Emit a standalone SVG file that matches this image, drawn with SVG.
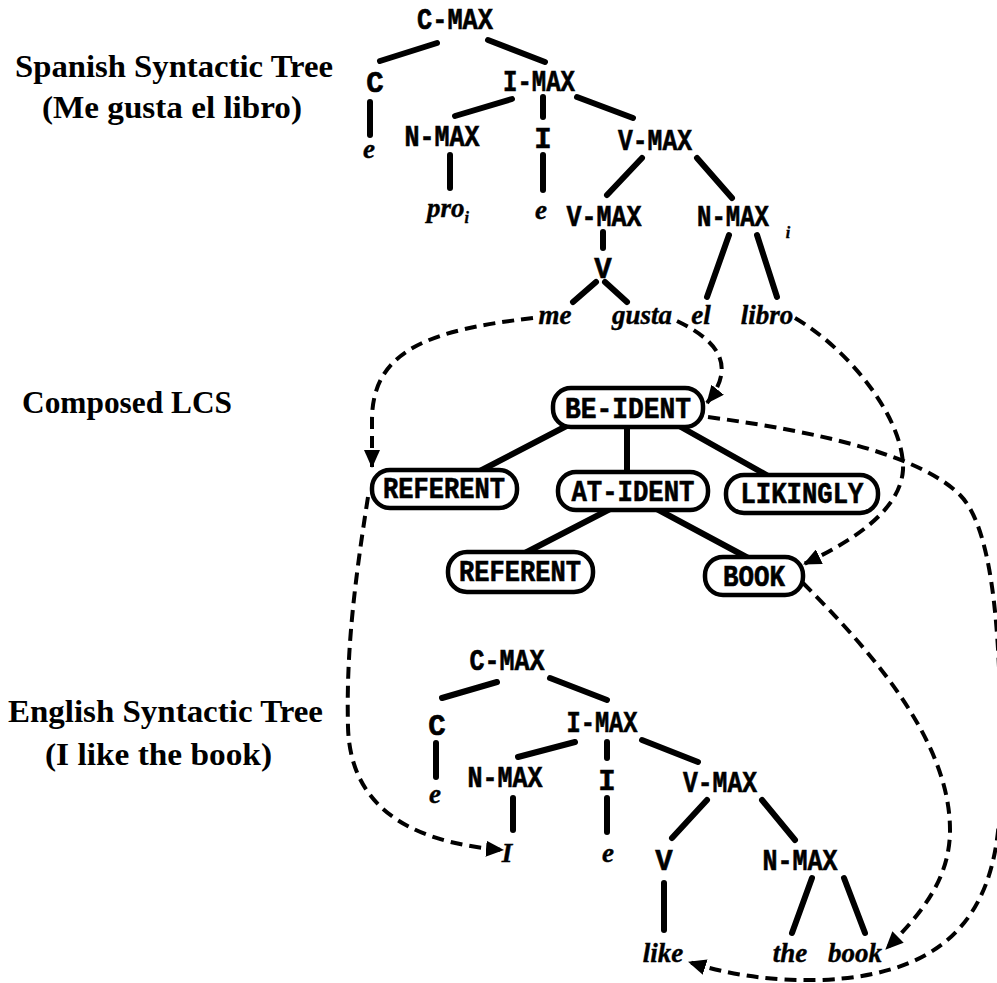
<svg xmlns="http://www.w3.org/2000/svg" width="997" height="983" viewBox="0 0 997 983">
  <style>
    .title { font-family: "Liberation Serif", "Times New Roman", serif; font-weight: bold; font-size: 31px; fill: #000; }
    .lbl { font-family: "Liberation Mono", "Courier New", monospace; font-weight: bold; font-size: 29px; fill: #000; stroke: #000; stroke-width: 0.6px; text-anchor: middle; }
    .word { font-family: "Liberation Serif", "Times New Roman", serif; font-weight: bold; font-style: italic; font-size: 27px; fill: #000; stroke: #000; stroke-width: 0.4px; text-anchor: middle; }
    .sub { font-size: 16px; }
    .box { fill: #fff; stroke: #000; stroke-width: 4.5px; }
    .edge { stroke: #000; stroke-width: 6px; stroke-linecap: round; fill: none; }
    .dash { stroke: #000; stroke-width: 4px; stroke-dasharray: 12 7; fill: none; }
  </style>
  <defs>
    <marker id="arrow" viewBox="0 0 18 16" refX="17" refY="8" markerWidth="18" markerHeight="16" markerUnits="userSpaceOnUse" orient="auto">
      <path d="M0,0 L18,8 L0,16 z" fill="#000"/>
    </marker>
  </defs>

  <!-- Section titles -->
  <g id="titles">
    <text class="title" x="15" y="77" textLength="318" lengthAdjust="spacingAndGlyphs">Spanish Syntactic Tree</text>
    <text class="title" x="42" y="118" textLength="260" lengthAdjust="spacingAndGlyphs">(Me gusta el libro)</text>
    <text class="title" x="22" y="413" textLength="210" lengthAdjust="spacingAndGlyphs">Composed LCS</text>
    <text class="title" x="8" y="722" textLength="315" lengthAdjust="spacingAndGlyphs">English Syntactic Tree</text>
    <text class="title" x="45" y="765" textLength="227" lengthAdjust="spacingAndGlyphs">(I like the book)</text>
  </g>

  <!-- Connectors: tree branches, LCS links and dashed correspondences -->
  <g id="connectors">
    <!-- Spanish tree -->
    <line class="edge" x1="437" y1="43" x2="380" y2="61"/>
    <line class="edge" x1="488" y1="40" x2="545" y2="62"/>
    <line class="edge" x1="370" y1="102" x2="370" y2="135"/>
    <line class="edge" x1="512" y1="99" x2="455" y2="116"/>
    <line class="edge" x1="543" y1="97" x2="543" y2="117"/>
    <line class="edge" x1="577" y1="97" x2="633" y2="118"/>
    <line class="edge" x1="450" y1="155" x2="450" y2="188"/>
    <line class="edge" x1="543" y1="155" x2="543" y2="190"/>
    <line class="edge" x1="642" y1="158" x2="607" y2="195"/>
    <line class="edge" x1="697" y1="158" x2="732" y2="198"/>
    <line class="edge" x1="603" y1="232" x2="603" y2="248"/>
    <line class="edge" x1="596" y1="282" x2="573" y2="302"/>
    <line class="edge" x1="605" y1="282" x2="627" y2="302"/>
    <line class="edge" x1="729" y1="235" x2="707" y2="297"/>
    <line class="edge" x1="757" y1="235" x2="777" y2="297"/>

    <!-- LCS -->
    <line class="edge" x1="578" y1="420" x2="478" y2="472"/>
    <line class="edge" x1="627" y1="427" x2="627" y2="473"/>
    <line class="edge" x1="672" y1="422" x2="770" y2="477"/>
    <line class="edge" x1="612" y1="508" x2="523" y2="554"/>
    <line class="edge" x1="655" y1="508" x2="750" y2="559"/>

    <!-- English tree -->
    <line class="edge" x1="497" y1="682" x2="442" y2="698"/>
    <line class="edge" x1="550" y1="678" x2="607" y2="700"/>
    <line class="edge" x1="436" y1="743" x2="436" y2="777"/>
    <line class="edge" x1="575" y1="742" x2="518" y2="757"/>
    <line class="edge" x1="607" y1="742" x2="607" y2="758"/>
    <line class="edge" x1="642" y1="740" x2="698" y2="762"/>
    <line class="edge" x1="513" y1="798" x2="513" y2="830"/>
    <line class="edge" x1="607" y1="798" x2="607" y2="832"/>
    <line class="edge" x1="707" y1="800" x2="672" y2="838"/>
    <line class="edge" x1="762" y1="800" x2="795" y2="840"/>
    <line class="edge" x1="664" y1="883" x2="664" y2="930"/>
    <line class="edge" x1="812" y1="878" x2="792" y2="933"/>
    <line class="edge" x1="844" y1="878" x2="865" y2="933"/>

    <!-- Dashed correspondences -->
    <path class="dash" marker-end="url(#arrow)" d="M533,318 C430,330 372,350 372,420 L372,467"/>
    <path class="dash" marker-end="url(#arrow)" d="M677,321 C712,338 740,362 707,403"/>
    <path class="dash" marker-end="url(#arrow)" d="M795,318 C850,350 905,420 903,470 C900,512 850,542 804,564"/>
    <path class="dash" marker-end="url(#arrow)" d="M708,417 C820,432 920,455 960,495 C995,530 1003,650 1000,800 C998,900 960,975 820,980 C770,981 730,975 689,962"/>
    <path class="dash" marker-end="url(#arrow)" d="M803,583 C870,650 950,740 950,830 C950,880 920,915 886,949"/>
    <path class="dash" marker-end="url(#arrow)" d="M368,497 C355,580 346,650 348,727 C350,800 400,842 503,850"/>
  </g>

  <!-- Spanish syntactic tree nodes -->
  <g id="es-cmax"><text class="lbl" x="455" y="29" textLength="76" lengthAdjust="spacingAndGlyphs">C-MAX</text></g>
  <g id="es-c"><text class="lbl" x="375" y="92">C</text></g>
  <g id="es-c-e"><text class="word" x="369" y="158">e</text></g>
  <g id="es-imax"><text class="lbl" x="539" y="91" textLength="72" lengthAdjust="spacingAndGlyphs">I-MAX</text></g>
  <g id="es-nmax"><text class="lbl" x="442" y="146" textLength="75" lengthAdjust="spacingAndGlyphs">N-MAX</text></g>
  <g id="es-pro"><text class="word" x="427" y="217" style="text-anchor:start">pro<tspan class="sub" dy="6">i</tspan></text></g>
  <g id="es-i"><text class="lbl" x="543" y="148">I</text></g>
  <g id="es-i-e"><text class="word" x="541" y="219">e</text></g>
  <g id="es-vmax"><text class="lbl" x="655" y="150" textLength="74" lengthAdjust="spacingAndGlyphs">V-MAX</text></g>
  <g id="es-vmax2"><text class="lbl" x="604" y="226" textLength="75" lengthAdjust="spacingAndGlyphs">V-MAX</text></g>
  <g id="es-nmaxi">
    <text class="lbl" x="733" y="226" textLength="72" lengthAdjust="spacingAndGlyphs">N-MAX</text>
    <text class="word sub" x="788" y="238">i</text>
  </g>
  <g id="es-v"><text class="lbl" x="603" y="278">V</text></g>
  <g id="es-me"><text class="word" x="555" y="324">me</text></g>
  <g id="es-gusta"><text class="word" x="642" y="324">gusta</text></g>
  <g id="es-el"><text class="word" x="701" y="324">el</text></g>
  <g id="es-libro"><text class="word" x="767" y="324">libro</text></g>

  <!-- Composed LCS nodes -->
  <g id="lcs-be-ident">
    <rect class="box" x="553" y="388" width="150" height="39" rx="18"/>
    <text class="lbl" x="628" y="418" textLength="126" lengthAdjust="spacingAndGlyphs">BE-IDENT</text>
  </g>
  <g id="lcs-referent-1">
    <rect class="box" x="372" y="470" width="145" height="38" rx="18"/>
    <text class="lbl" x="444" y="498" textLength="122" lengthAdjust="spacingAndGlyphs">REFERENT</text>
  </g>
  <g id="lcs-at-ident">
    <rect class="box" x="558" y="472" width="150" height="38" rx="18"/>
    <text class="lbl" x="633" y="501" textLength="123" lengthAdjust="spacingAndGlyphs">AT-IDENT</text>
  </g>
  <g id="lcs-likingly">
    <rect class="box" x="726" y="475" width="152" height="38" rx="18"/>
    <text class="lbl" x="802" y="503" textLength="123" lengthAdjust="spacingAndGlyphs">LIKINGLY</text>
  </g>
  <g id="lcs-referent-2">
    <rect class="box" x="448" y="552" width="145" height="40" rx="19"/>
    <text class="lbl" x="520" y="581" textLength="122" lengthAdjust="spacingAndGlyphs">REFERENT</text>
  </g>
  <g id="lcs-book">
    <rect class="box" x="705" y="557" width="98" height="38" rx="18"/>
    <text class="lbl" x="754" y="586" textLength="62" lengthAdjust="spacingAndGlyphs">BOOK</text>
  </g>

  <!-- English syntactic tree nodes -->
  <g id="en-cmax"><text class="lbl" x="507" y="670" textLength="75" lengthAdjust="spacingAndGlyphs">C-MAX</text></g>
  <g id="en-c"><text class="lbl" x="437" y="735">C</text></g>
  <g id="en-c-e"><text class="word" x="435" y="803">e</text></g>
  <g id="en-imax"><text class="lbl" x="602" y="732" textLength="71" lengthAdjust="spacingAndGlyphs">I-MAX</text></g>
  <g id="en-nmax"><text class="lbl" x="505" y="787" textLength="75" lengthAdjust="spacingAndGlyphs">N-MAX</text></g>
  <g id="en-pron"><text class="word" x="507" y="862">I</text></g>
  <g id="en-i"><text class="lbl" x="607" y="790">I</text></g>
  <g id="en-i-e"><text class="word" x="608" y="862">e</text></g>
  <g id="en-vmax"><text class="lbl" x="720" y="792" textLength="74" lengthAdjust="spacingAndGlyphs">V-MAX</text></g>
  <g id="en-v"><text class="lbl" x="664" y="870">V</text></g>
  <g id="en-nmax2"><text class="lbl" x="800" y="870" textLength="75" lengthAdjust="spacingAndGlyphs">N-MAX</text></g>
  <g id="en-like"><text class="word" x="663" y="962">like</text></g>
  <g id="en-the"><text class="word" x="790" y="962">the</text></g>
  <g id="en-book"><text class="word" x="855" y="962">book</text></g>
</svg>
